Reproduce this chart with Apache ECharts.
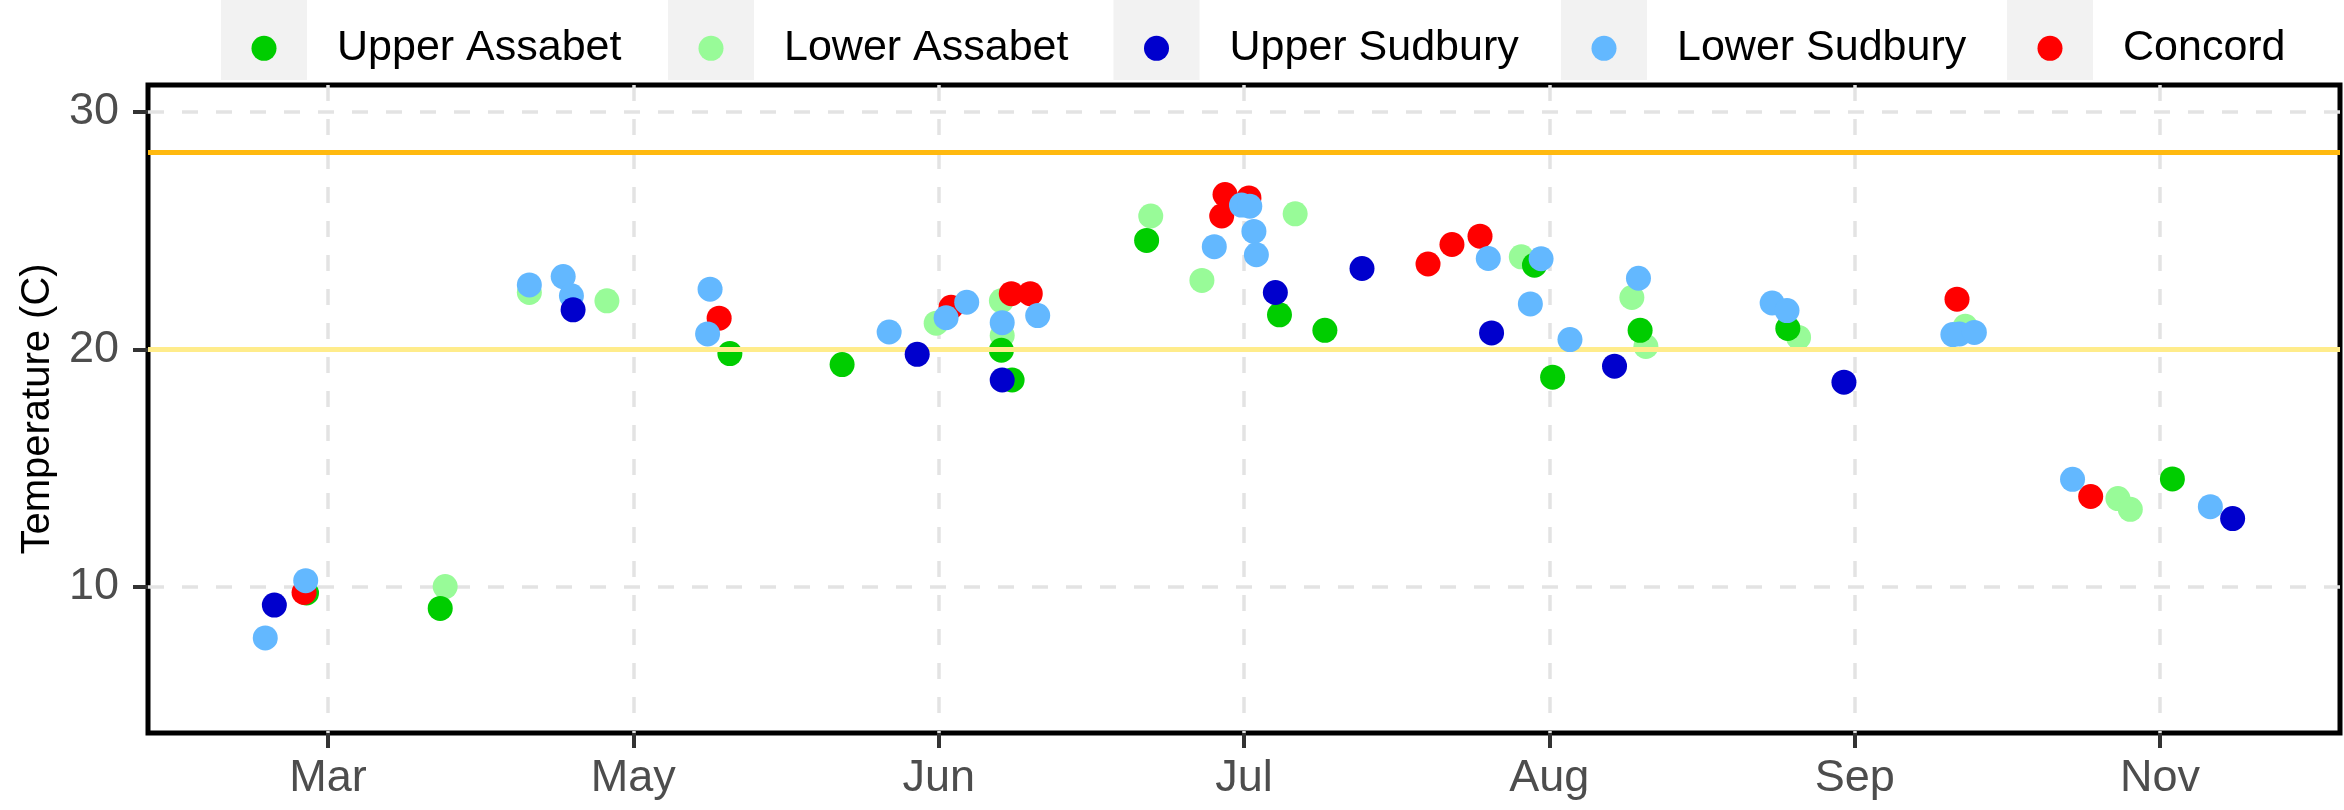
<!DOCTYPE html>
<html>
<head>
<meta charset="utf-8">
<script src="https://cdn.jsdelivr.net/npm/echarts@6/dist/echarts.min.js"></script>
<style>
html,body{margin:0;padding:0;background:#fff;}
#chart{width:2344px;height:810px;}
</style>
</head>
<body>
<div id="chart"></div>
<script>
// x = day of year (sampling date), y = water temperature (C)
var seriesNames = ['Upper Assabet', 'Lower Assabet', 'Upper Sudbury', 'Lower Sudbury', 'Concord'];
var seriesColors = ['#00CD00', '#98FB98', '#0000CD', '#63B8FF', '#FF0000'];

var upperAssabet = [[84.4,9.75],[100.6,9.1],[135.7,19.82],[149.3,19.36],[168.6,19.96],[169.9,18.71],[186.2,24.58],[202.3,21.45],[207.8,20.80],[233.2,23.54],[235.4,18.83],[246.0,20.80],[263.9,20.88],[310.5,14.55]];
var lowerAssabet = [[101.2,10.02],[111.4,22.39],[120.8,22.04],[160.7,21.10],[168.6,22.04],[168.7,20.58],[186.7,25.61],[192.9,22.90],[204.2,25.70],[231.6,23.89],[245.0,22.18],[246.7,20.12],[265.2,20.50],[285.4,20.97],[303.9,13.72],[305.4,13.27]];
var upperSudbury = [[80.5,9.24],[116.7,21.66],[158.4,19.79],[168.7,18.71],[201.8,22.39],[212.3,23.40],[228.0,20.69],[242.9,19.29],[270.7,18.62],[317.8,12.88]];
var lowerSudbury = [[79.4,7.86],[84.3,10.27],[111.4,22.71],[115.5,23.06],[116.5,22.25],[133.3,22.53],[133.0,20.65],[155.0,20.73],[161.9,21.33],[164.4,21.98],[168.7,21.12],[173.0,21.42],[194.4,24.32],[197.7,26.07],[198.7,26.02],[199.2,24.96],[199.5,23.98],[227.6,23.82],[234.0,23.81],[232.7,21.91],[237.5,20.41],[245.8,22.99],[262.0,21.95],[263.8,21.63],[283.9,20.62],[284.7,20.65],[286.5,20.71],[298.4,14.53],[315.1,13.38]];
var concord = [[84.1,9.77],[134.4,21.31],[162.5,21.77],[169.8,22.34],[172.1,22.34],[195.7,26.51],[195.3,25.61],[198.6,26.37],[220.3,23.59],[223.2,24.41],[226.6,24.76],[284.4,22.11],[300.6,13.81]];

var xTickValues = [87, 124, 161, 198, 235, 272, 309];
var xTickLabels = ['Mar', 'May', 'Jun', 'Jul', 'Aug', 'Sep', 'Nov'];
var yTickValues = [10, 20, 30];
var refLineValues = [28.27, 20];
var refLineColors = ['#FFB90F', '#FFEC8B'];

var FONT = "'Liberation Sans', Arial, Helvetica, sans-serif";
var dataBySeries = [upperAssabet, lowerAssabet, upperSudbury, lowerSudbury, concord];
var drawOrder = [1, 0, 4, 3, 2]; // bottom to top

var chart = echarts.init(document.getElementById('chart'), null, {renderer: 'canvas'});

var series = [{
  type: 'scatter', name: '_ref', data: [], z: 1, silent: true,
  markLine: {
    silent: true, symbol: 'none', animation: false,
    label: {show: false},
    data: refLineValues.map(function (v, i) {
      return {yAxis: v, lineStyle: {color: refLineColors[i], width: 5, type: 'solid'}};
    })
  }
}];
drawOrder.forEach(function (idx, k) {
  series.push({
    type: 'scatter',
    name: seriesNames[idx],
    data: dataBySeries[idx],
    symbol: 'circle',
    symbolSize: 25,
    z: 2 + k,
    itemStyle: {color: seriesColors[idx], opacity: 1},
    emphasis: {disabled: true}
  });
});

var boxLefts = [221, 668, 1113.5, 1561, 2007];
var legends = seriesNames.map(function (n, i) {
  return {
    data: [{name: n, icon: 'circle'}],
    left: boxLefts[i] + 30.5,
    top: 26.8,
    padding: 0,
    itemWidth: 25, itemHeight: 25,
    selectedMode: false,
    textStyle: {fontFamily: FONT, fontSize: 43, color: '#000', padding: [0, 0, 0, 55.5]}
  };
});

var graphics = boxLefts.map(function (x) {
  return {type: 'rect', z: -10, silent: true, shape: {x: x, y: 0, width: 86, height: 80}, style: {fill: '#F2F2F2'}};
});

chart.setOption({
  animation: false,
  backgroundColor: '#fff',
  textStyle: {fontFamily: FONT},
  graphic: graphics,
  legend: legends,
  grid: {
    left: 148, right: 4, top: 85, bottom: 77,
    show: true, borderColor: '#000', borderWidth: 5, backgroundColor: 'transparent'
  },
  xAxis: {
    type: 'value', min: 65.19, max: 330.81,
    axisLine: {show: false},
    axisTick: {show: true, length: 15, lineStyle: {color: '#333', width: 4}, customValues: xTickValues},
    axisLabel: {
      customValues: xTickValues, margin: 23, fontSize: 45, color: '#4D4D4D', fontFamily: FONT,
      formatter: function (v) { var i = xTickValues.indexOf(v); return i >= 0 ? xTickLabels[i] : ''; }
    },
    splitLine: {show: true, lineStyle: {color: '#E3E3E3', width: 3.5, type: [16, 18]}}
  },
  yAxis: {
    type: 'value', min: 3.86, max: 31.12,
    name: 'Temperature (C)', nameLocation: 'middle', nameGap: 90,
    nameTextStyle: {fontSize: 40, color: '#000', fontFamily: FONT},
    axisLine: {show: false},
    axisTick: {show: true, length: 15, lineStyle: {color: '#333', width: 4}, customValues: yTickValues},
    axisLabel: {customValues: yTickValues, margin: 29, fontSize: 45, color: '#4D4D4D', fontFamily: FONT},
    splitLine: {show: true, lineStyle: {color: '#E3E3E3', width: 3.5, type: [16, 18]}}
  },
  series: series
});
</script>
</body>
</html>
